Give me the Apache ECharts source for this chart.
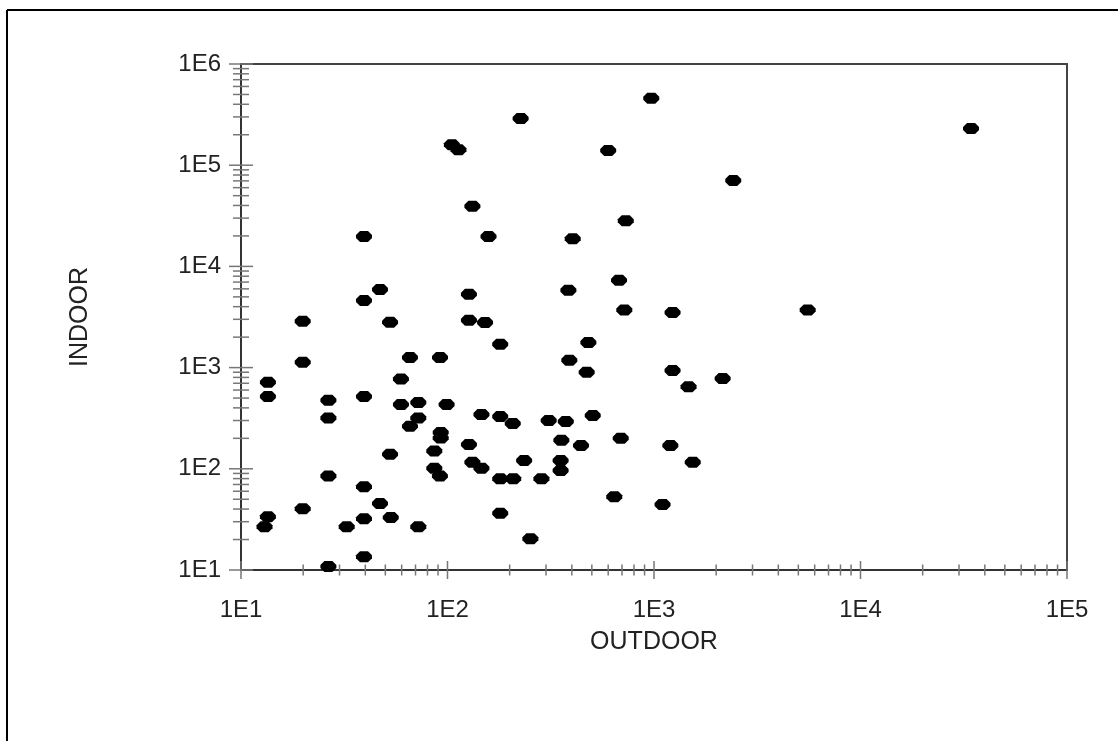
<!DOCTYPE html>
<html>
<head>
<meta charset="utf-8">
<title>INDOOR vs OUTDOOR</title>
<script src="https://cdn.jsdelivr.net/npm/echarts@6/dist/echarts.min.js"></script>
<style>
  html, body { margin: 0; padding: 0; background: #fff; }
  #main { width: 1118px; height: 741px; }
</style>
</head>
<body>
<div id="main"></div>
<script>
// values (log-log scatter)
var outdoor = [
  970, 226, 34300, 105, 113, 600, 2420, 132, 730, 39.4,
  158, 404, 677, 47.1, 39.4, 127, 385, 718, 1230, 5550,
  19.9, 52.7, 127, 152, 180, 481, 65.8, 92, 389, 19.9,
  472, 1230, 59.5, 2150, 13.5, 1470, 13.5, 26.5, 39.4, 59.5,
  72.2, 99, 26.5, 72.2, 65.8, 146, 180, 207, 309, 374,
  505, 92.7, 92.7, 127, 356, 443, 690, 1200, 86.3, 52.7,
  132, 146, 235, 353, 353, 1540, 86.3, 91.9, 26.5, 180,
  208, 285, 39.4, 642, 1100, 47.1, 19.9, 13.5, 13.0, 39.4,
  53.1, 32.5, 72.2, 180, 252, 39.4, 26.5
];
var indoor = [
  460000, 290000, 231000, 159000, 142000, 140000, 70800, 39200, 28300, 19800,
  19800, 18800, 7300, 5900, 4600, 5300, 5800, 3700, 3500, 3700,
  2870, 2800, 2940, 2790, 1700, 1770, 1260, 1260, 1180, 1130,
  900, 936, 773, 780, 717, 645, 518, 477, 518, 432,
  452, 432, 317, 317, 264, 344, 329, 281, 300, 294,
  337, 229, 202, 174, 191, 170, 200, 170, 150, 139,
  116, 101, 121, 121, 96.4, 116, 101, 84.7, 84.7, 79.6,
  79.6, 79.6, 66.4, 52.9, 44.5, 45.5, 40.3, 33.6, 26.8, 32.1,
  33.1, 26.8, 26.8, 36.3, 20.4, 13.5, 10.8
];
var xRange = [10, 100000];
var yRange = [10, 1000000];
var tickSteps = [1, 2, 3, 4, 5, 6, 7, 8, 9];

var myChart = echarts.init(document.getElementById('main'));
var font = 'Liberation Sans, Arial, sans-serif';

// ticks at 1..9 x 10^n, the library's log axis only gives decades
function logTicks(from, to) {
  var out = [];
  for (var d = from; d < to; d *= 10) {
    tickSteps.forEach(function (m) { out.push([m * d, m === 1 ? 1 : 0]); });
  }
  out.push([to, 1]);
  return out;
}
var xTicks = logTicks(xRange[0], xRange[1]).map(function (t) { return [t[0], yRange[0], t[1]]; });
var yTicks = logTicks(yRange[0], yRange[1]).map(function (t) { return [xRange[0], t[0], t[1]]; });

var points = outdoor.map(function (v, i) { return [v, indoor[i]]; });

function expLabel(v) {
  return '1E' + Math.round(Math.log(v) / Math.LN10);
}

var option = {
  backgroundColor: '#fff',
  animation: false,
  grid: {
    left: 241, right: 51, top: 64, bottom: 171,
    show: true, borderColor: '#444', borderWidth: 2
  },
  xAxis: {
    type: 'log', logBase: 10, min: xRange[0], max: xRange[1],
    name: 'OUTDOOR', nameLocation: 'middle', nameGap: 60,
    nameTextStyle: { fontFamily: font, fontSize: 25, color: '#222' },
    axisLine: { lineStyle: { color: '#333', width: 2 } },
    axisTick: { show: false },
    splitLine: { show: false },
    axisLabel: {
      margin: 28, formatter: expLabel,
      fontFamily: font, fontSize: 24, color: '#222',
      showMinLabel: true, showMaxLabel: true
    }
  },
  yAxis: {
    type: 'log', logBase: 10, min: yRange[0], max: yRange[1],
    name: 'INDOOR', nameLocation: 'middle', nameGap: 148,
    nameTextStyle: { fontFamily: font, fontSize: 25, color: '#222' },
    axisLine: { lineStyle: { color: '#333', width: 2 } },
    axisTick: { show: false },
    splitLine: { show: false },
    axisLabel: {
      margin: 20, formatter: expLabel,
      fontFamily: font, fontSize: 24, color: '#222',
      showMinLabel: true, showMaxLabel: true
    }
  },
  graphic: [
    { type: 'line', shape: { x1: 7, y1: 10, x2: 1118, y2: 10 }, style: { stroke: '#000', lineWidth: 2 } },
    { type: 'line', shape: { x1: 7, y1: 10, x2: 7, y2: 741 }, style: { stroke: '#000', lineWidth: 2 } }
  ],
  series: [
    {
      type: 'custom', silent: true, z: 3,
      data: xTicks,
      renderItem: function (params, api) {
        var p = api.coord([api.value(0), api.value(1)]);
        var h = api.value(2) ? 9 : 5.5;
        return { type: 'line', shape: { x1: p[0], y1: p[1] - h, x2: p[0], y2: p[1] + h },
                 style: { stroke: '#777', lineWidth: 1.5 } };
      }
    },
    {
      type: 'custom', silent: true, z: 3,
      data: yTicks,
      renderItem: function (params, api) {
        var p = api.coord([api.value(0), api.value(1)]);
        var h = api.value(2) ? 12 : 8;
        return { type: 'line', shape: { x1: p[0] - h, y1: p[1], x2: p[0] + h, y2: p[1] },
                 style: { stroke: '#777', lineWidth: 1.5 } };
      }
    },
    {
      name: 'INDOOR', type: 'scatter', z: 4,
      symbol: 'path://M4,0H12L16,4V7L12,11H4L0,7V4Z',
      symbolSize: [16, 11],
      itemStyle: { color: '#000', opacity: 1 },
      data: points
    }
  ]
};

myChart.setOption(option);
</script>
</body>
</html>
